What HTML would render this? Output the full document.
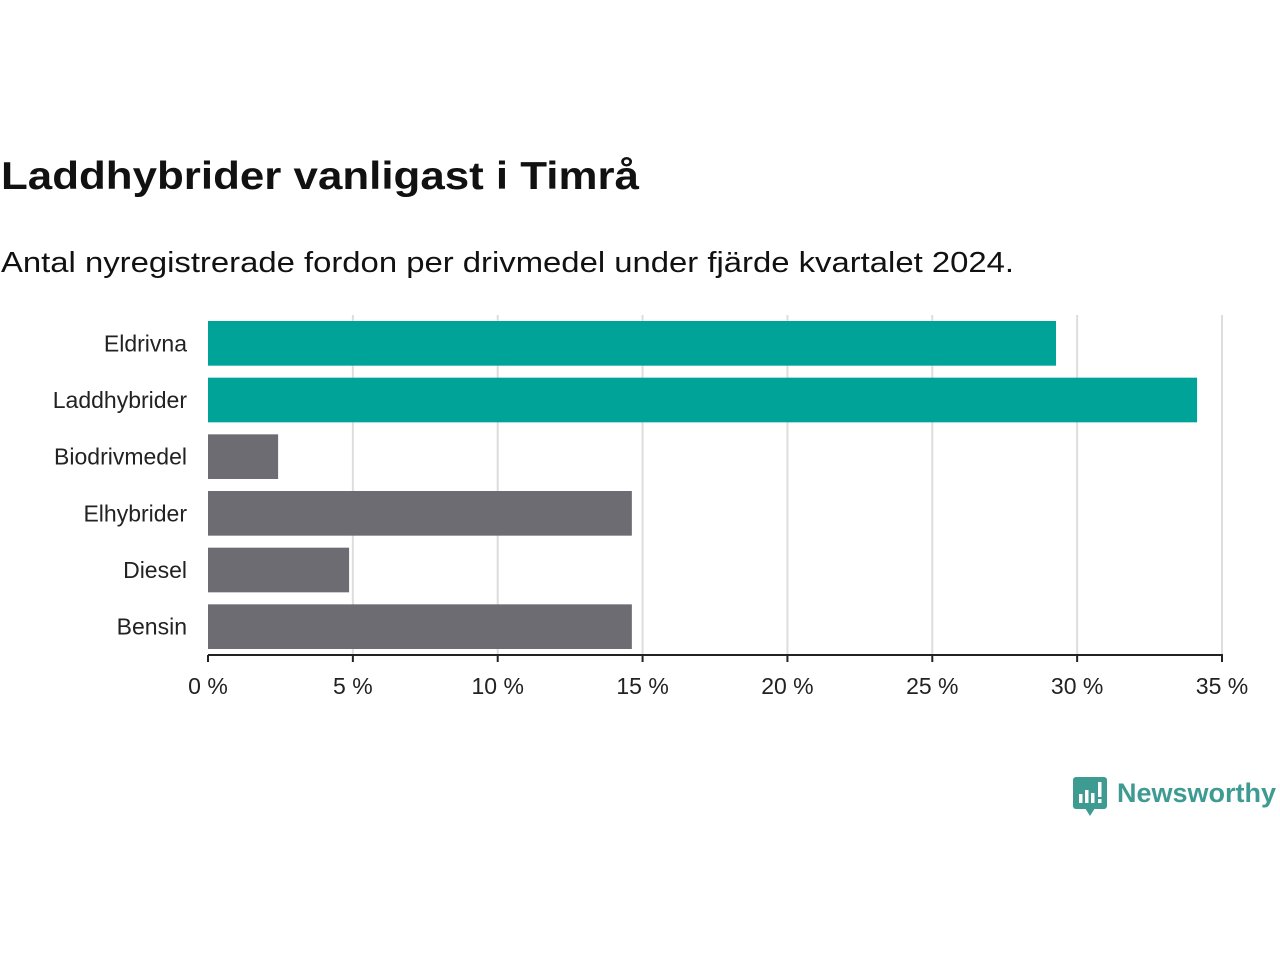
<!DOCTYPE html>
<html><head><meta charset="utf-8"><style>
body{margin:0;width:1280px;height:960px;background:#fff;font-family:"Liberation Sans","DejaVu Sans",sans-serif;overflow:hidden;position:relative}
</style></head><body>
<svg id="chart" width="1280" height="960" style="position:absolute;left:0;top:0">
<text x="1" y="189" font-size="39" font-weight="bold" fill="#111" textLength="638" lengthAdjust="spacingAndGlyphs">Laddhybrider vanligast i Timrå</text>
<text x="1" y="272" font-size="29" fill="#111" textLength="1013" lengthAdjust="spacingAndGlyphs">Antal nyregistrerade fordon per drivmedel under fjärde kvartalet 2024.</text>
</svg>
<div style="position:absolute;left:1073px;top:777px;display:flex;align-items:center">
<svg width="34" height="40" viewBox="0 0 34 40"><rect x="0" y="0" width="34" height="32" rx="3" fill="#3d9b91"/><path d="M12 31 L17 39 L22 31Z" fill="#3d9b91"/><rect x="6" y="17" width="3.5" height="9" fill="#fff"/><rect x="12" y="13" width="3.5" height="13" fill="#fff"/><rect x="18" y="16" width="3.5" height="10" fill="#fff"/><rect x="25" y="5" width="3.5" height="15" fill="#fff"/><rect x="25" y="22" width="3.5" height="4" fill="#fff"/></svg>
<span style="margin-left:10px;font-size:27px;font-weight:bold;color:#3d9b91;margin-top:-8px">Newsworthy</span></div>
<script>
const categories=["Eldrivna","Laddhybrider","Biodrivmedel","Elhybrider","Diesel","Bensin"];
const values=[29.27,34.14,2.42,14.63,4.87,14.63];
const highlight=[true,true,false,false,false,false];
const ticks=[0,5,10,15,20,25,30,35];
(function(){
const svg=document.getElementById('chart');
const NS='http://www.w3.org/2000/svg';
const x0=208,x1=1222,maxV=35,plotTop=315,plotBottom=655;
const xs=v=>x0+(x1-x0)*v/maxV;
const band=(plotBottom-plotTop)/categories.length;
function el(t,a){const e=document.createElementNS(NS,t);for(const k in a)e.setAttribute(k,a[k]);svg.appendChild(e);return e;}
ticks.forEach(t=>{
  if(t>0){const g=el('line',{x1:xs(t),x2:xs(t),y1:plotTop,y2:plotBottom,stroke:'#ddd','stroke-width':2});
  
  }
  const tk=el('line',{x1:xs(t),x2:xs(t),y1:plotBottom,y2:plotBottom+7,stroke:'#222','stroke-width':2});
  
  
  const tx=el('text',{x:xs(t),y:plotBottom+39,'text-anchor':'middle','font-size':23,fill:'#222'});
  tx.textContent=t+' %';
  
  
});
categories.forEach((c,i)=>{
  const y=plotTop+i*band+6;
  const r=el('rect',{x:x0,y:y,width:xs(values[i])-x0,height:band-12,fill:highlight[i]?'#00a398':'#6d6c72'});
  
  
  const t=el('text',{x:187,y:y+(band-12)/2+8,'text-anchor':'end','font-size':23,fill:'#222'});
  t.textContent=c;
  
  
});
const ax=el('line',{x1:x0,x2:x1+1,y1:plotBottom,y2:plotBottom,stroke:'#222','stroke-width':2});


})();
</script>
</body></html>
